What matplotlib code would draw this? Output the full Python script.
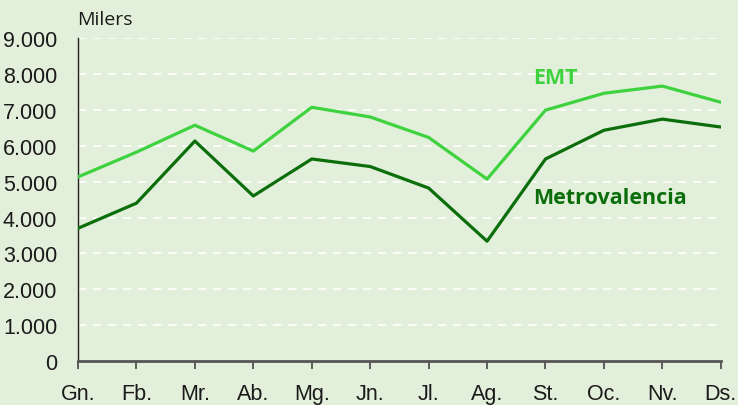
import matplotlib.pyplot as plt
from matplotlib.ticker import FuncFormatter

# ── Data ───────────────────────────────────────────────────────────────────────
months = ["Gn.", "Fb.", "Mr.", "Ab.", "Mg.", "Jn.", "Jl.", "Ag.", "St.", "Oc.", "Nv.", "Ds."]
emt = [5130, 5820, 6570, 5850, 7070, 6800, 6230, 5070, 6990, 7460, 7660, 7210]
metrovalencia = [3700, 4400, 6130, 4600, 5630, 5420, 4820, 3340, 5630, 6430, 6740, 6520]

BG = "#e2efda"
LIGHT = "#3fd23f"
DARK = "#0b6e0b"

fig = plt.figure(figsize=(7.38, 4.06), dpi=100, facecolor=BG)
ax = fig.add_axes([0.1057, 0.108, 0.871, 0.796])
ax.set_facecolor(BG)

x = range(len(months))
ax.plot(x, emt, color=LIGHT, lw=2.3, solid_joinstyle="round", zorder=3)
ax.plot(x, metrovalencia, color=DARK, lw=2.3, solid_joinstyle="round", zorder=3)

ax.set_xlim(0, len(months) - 1)
ax.set_ylim(0, 9000)
ax.set_yticks(range(0, 9001, 1000))
ax.yaxis.set_major_formatter(FuncFormatter(lambda v, p: f"{int(v):,}".replace(",", ".")))
ax.set_xticks(list(x))
ax.set_xticklabels(months)

for v in range(1000, 9001, 1000):
    ax.axhline(v, color="white", lw=1.2, ls=(0, (5, 4)), zorder=1)

for s in ["top", "right"]:
    ax.spines[s].set_visible(False)
ax.spines["left"].set_color("#222222")
ax.spines["left"].set_linewidth(1.0)
ax.spines["bottom"].set_color("#555555")
ax.spines["bottom"].set_linewidth(2.0)

for t in ax.get_xticklabels() + ax.get_yticklabels():
    t.set_fontfamily("Liberation Sans")
    t.set_fontsize(15.5)
    t.set_color("#1a1a1a")
ax.tick_params(axis="y", length=0, pad=15)
ax.tick_params(axis="x", length=6, width=1.2, color="#444444", direction="out", pad=10)

fig.text(0.105, 0.951, "Milers", family="Open Sans", fontsize=14, color="#1a1a1a",
         ha="left", va="center")

ax.text(8.17, 7910, "EMT", family="Open Sans", fontweight="bold", fontsize=15.5,
        color=LIGHT, ha="center", va="center")
ax.text(7.79, 4570, "Metrovalencia", family="Open Sans", fontweight="bold", fontsize=15.5,
        color=DARK, ha="left", va="center")

plt.savefig("out.png", dpi=100, facecolor=BG)
plt.close()
